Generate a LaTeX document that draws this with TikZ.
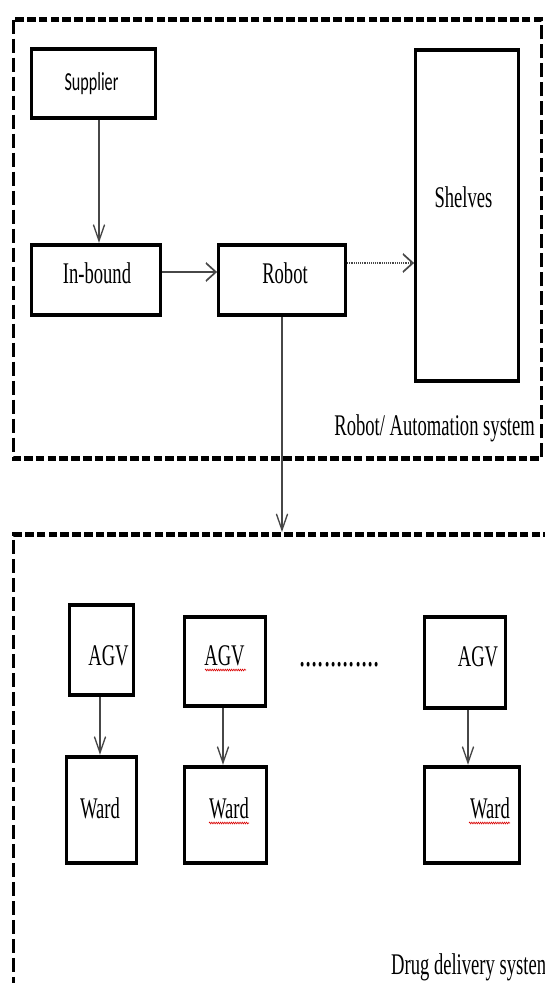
\documentclass[tikz,border=0pt]{standalone}
\usepackage{fontspec}
\setmainfont{Liberation Serif}
\newfontfamily\calibrifont{Carlito}
\usetikzlibrary{fit,calc,arrows.meta,decorations.pathmorphing}

\newcommand\wordsize{\fontsize{30}{30}\selectfont}

\tikzset{
  box/.style={draw=black, line width=4.5pt, inner sep=0pt, fit={#1}},
  lbl/.style={inner sep=0pt, anchor=base, font=\wordsize, text=black},
  conn/.style={draw=black!72, line width=2pt, -{Straight Barb[length=16pt,width=18pt]}},
  sysframe/.style={draw=black, line width=5pt, dash pattern=on 14pt off 5pt},
  spell/.style={draw=red!85!black, line width=0.8pt, decorate,
    decoration={snake, amplitude=0.9pt, segment length=3.5pt}},
}

\begin{document}
\begin{tikzpicture}[x=1pt, y=-1pt]
  \path[use as bounding box, fill=white] (0,0) rectangle (545,983);
  \clip (0,0) rectangle (545,983);

  % the whole chart is laid out in pixel units and narrowed horizontally
  \begin{scope}[x=1.6129pt, transform canvas={xscale=0.62}]
    % system frames
    \draw[sysframe] (13.4,19.5) rectangle (541.6,458.5);
    \draw[sysframe] (552,534.5) -- (13.4,534.5) -- (13.4,1000);
    \coordinate (dtop) at (282,532);

    % boxes
    \node[box={(31.5,49) (155.5,118)}]    (sup)   {};
    \node[box={(31.5,245) (160.5,315)}]   (inb)   {};
    \node[box={(218.5,245) (345.5,315)}]  (rob)   {};
    \node[box={(415.5,50) (518.5,381)}]   (shel)  {};
    \node[box={(69.5,605) (133.5,695)}]   (agv1)  {};
    \node[box={(184.5,617) (265.5,706)}]  (agv2)  {};
    \node[box={(424.5,617) (505.5,708)}]  (agv3)  {};
    \node[box={(66.5,757) (136.5,863)}]   (ward1) {};
    \node[box={(184.5,767) (266.5,863)}]  (ward2) {};
    \node[box={(424.5,767) (519.5,863)}]  (ward3) {};

    % texts
    \node[lbl, font=\calibrifont\fontsize{26}{26}\selectfont] (sup-t) at (91.5,90) {Supplier};
    \node[lbl] (inb-t)   at (97,283)    {In-bound};
    \node[lbl] (rob-t)   at (285,283)   {Robot};
    \node[lbl] (shel-t)  at (463.5,207) {Shelves};
    \node[lbl, anchor=base east] (auto-t) at (535,435) {Robot/ Automation system};
    \node[lbl] (agv1-t)  at (108.5,665) {AGV};
    \node[lbl] (agv2-t)  at (224.5,665) {AGV};
    \node[lbl] (agv3-t)  at (478,666)   {AGV};
    \node[lbl, font=\fontsize{40}{40}\selectfont] (dots) at (339.5,666) {.............};
    \node[lbl] (ward1-t) at (100,818)   {Ward};
    \node[lbl] (ward2-t) at (229,818)   {Ward};
    \node[lbl] (ward3-t) at (490,818)   {Ward};
    \node[lbl, anchor=base west] (drug-t) at (391,974) {Drug delivery systen};

    % spell-check marks
    \draw[spell] (205,670) -- (246,670);
    \draw[spell] (209,823) -- (249,823);
    \draw[spell] (469,823) -- (510,823);

    % connectors
    \coordinate (c1) at ($(sup.south)+(5.5,0)$);
    \draw[conn] (c1) -- (c1 |- inb.north);
    \coordinate (c2) at ($(inb.east)+(0,-8)$);
    \draw[conn] (c2) -- (c2 -| rob.west);
    \coordinate (c3) at ($(rob.east)+(0,-17)$);
    \draw[conn, dash pattern=on 1.5pt off 1.5pt] (c3) -- (c3 -| shel.west);
    \draw[conn] (rob.south) -- (rob.south |- dtop);
    \coordinate (c5) at ($(agv1.south)+(-1.5,0)$);
    \draw[conn] (c5) -- (c5 |- ward1.north);
    \coordinate (c6) at ($(agv2.south)+(-2,0)$);
    \draw[conn] (c6) -- (c6 |- ward2.north);
    \coordinate (c7) at ($(agv3.south)+(3,0)$);
    \draw[conn] (c7) -- (c7 |- ward3.north);
  \end{scope}
\end{tikzpicture}
\end{document}
